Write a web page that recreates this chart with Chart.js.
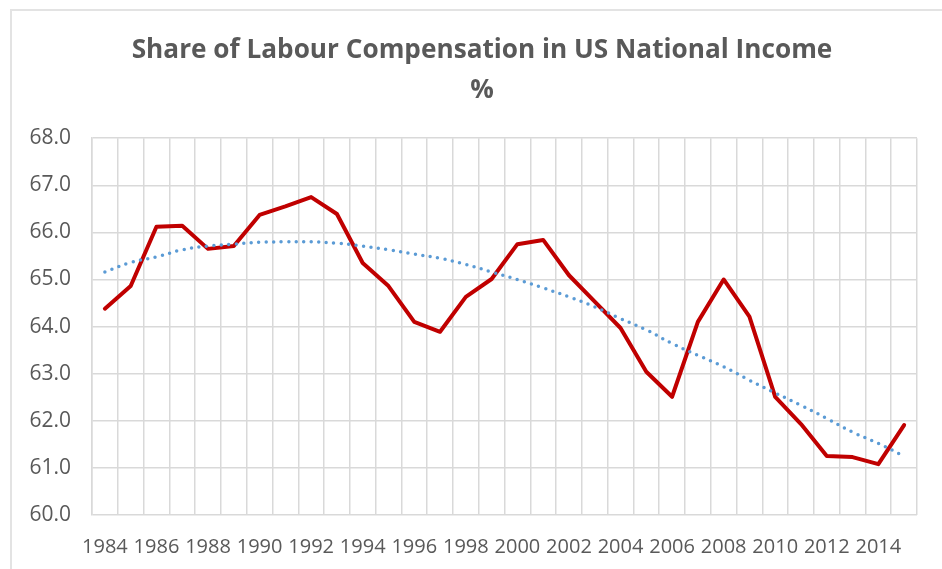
<!DOCTYPE html>
<html>
<head>
<meta charset="utf-8">
<script src="https://cdn.jsdelivr.net/npm/chart.js@4.4.1/dist/chart.umd.min.js"></script>
<style>
    body { margin: 0; background: #fff; overflow: hidden; }
    #frame {
        position: absolute; left: 10px; top: 9px;
        width: 960px; height: 600px;
        border: 2px solid #e3e3e3;
        box-sizing: border-box;
    }
    #wrap { position: absolute; left: 0; top: 0; width: 942px; height: 569px; }
</style>
</head>
<body>
<div id="frame"></div>
<div id="wrap"><canvas id="labourChart"></canvas></div>
<script>
// Years on the category axis
const years = [
    '1984', '1985', '1986', '1987', '1988', '1989', '1990', '1991',
    '1992', '1993', '1994', '1995', '1996', '1997', '1998', '1999',
    '2000', '2001', '2002', '2003', '2004', '2005', '2006', '2007',
    '2008', '2009', '2010', '2011', '2012', '2013', '2014', '2015'
];

// Labour compensation share, % of national income
const labourShare = [
    64.38, 64.86, 66.12, 66.14, 65.65, 65.71, 66.37, 66.55,
    66.75, 66.39, 65.35, 64.86, 64.10, 63.89, 64.63, 65.01,
    65.75, 65.84, 65.09, 64.53, 63.97, 63.04, 62.51, 64.10,
    65.00, 64.21, 62.51, 61.93, 61.25, 61.23, 61.08, 61.91
];

// Dotted trend line
const trendShare = [
    65.16, 65.36, 65.48, 65.63, 65.71, 65.75, 65.79, 65.80,
    65.80, 65.77, 65.71, 65.63, 65.54, 65.45, 65.32, 65.16,
    65.00, 64.82, 64.63, 64.42, 64.17, 63.93, 63.64, 63.39,
    63.15, 62.86, 62.59, 62.33, 62.05, 61.76, 61.52, 61.25
];

const yMin = 60;
const yMax = 68;

const textGrey = '#595959';
const gridGrey = '#d9d9d9';
const fontFamily = '"Open Sans", "Liberation Sans", sans-serif';

const ctx = document.getElementById('labourChart').getContext('2d');
new Chart(ctx, {
    type: 'line',
    data: {
        labels: years,
        datasets: [{
            label: 'Labour share',
            data: labourShare,
            borderColor: '#c00000',
            borderWidth: 4,
            borderJoinStyle: 'round',
            borderCapStyle: 'round',
            pointRadius: 0,
            tension: 0,
            fill: false,
            order: 1
        }, {
            label: 'Trend',
            data: trendShare,
            borderColor: '#5b9bd5',
            borderWidth: 3.5,
            borderDash: [0, 7.5],
            borderCapStyle: 'round',
            pointRadius: 0,
            tension: 0.4,
            fill: false,
            order: 0
        }]
    },
    options: {
        responsive: true,
        maintainAspectRatio: false,
        animation: false,
        layout: {
            padding: { left: 27, right: 5, top: 0, bottom: 10 }
        },
        plugins: {
            legend: { display: false },
            tooltip: { enabled: false },
            title: {
                display: true,
                text: ['Share of Labour Compensation in US National Income', '%'],
                color: textGrey,
                font: { family: fontFamily, size: 26.2, weight: 'bold', lineHeight: 1.53 },
                padding: { top: 30, bottom: 28 }
            }
        },
        scales: {
            x: {
                offset: true,
                grid: {
                    offset: true,
                    color: gridGrey,
                    lineWidth: 1.5,
                    drawTicks: false
                },
                border: { display: false },
                ticks: {
                    autoSkip: false,
                    maxRotation: 0,
                    padding: 20,
                    color: textGrey,
                    font: { family: fontFamily, size: 20 },
                    callback: function(value, index) {
                        return index % 2 === 0 ? this.getLabelForValue(value) : '';
                    }
                },
                afterFit: scale => { scale.height = 44; }
            },
            y: {
                min: yMin,
                max: yMax,
                grid: {
                    color: gridGrey,
                    lineWidth: 1.5,
                    drawTicks: false
                },
                border: { display: true, color: gridGrey, width: 1.5 },
                ticks: {
                    stepSize: 1,
                    padding: 21,
                    color: textGrey,
                    font: { family: fontFamily, size: 21 },
                    callback: value => value.toFixed(1)
                },
                afterFit: scale => { scale.width = 65; }
            },
            // empty right-hand strip, so the title sits centred on the frame
            spacer: {
                type: 'linear',
                position: 'right',
                grid: { display: false },
                border: { display: false },
                ticks: { display: false },
                afterFit: scale => { scale.width = 20; }
            }
        }
    }
});
</script>
</body>
</html>
